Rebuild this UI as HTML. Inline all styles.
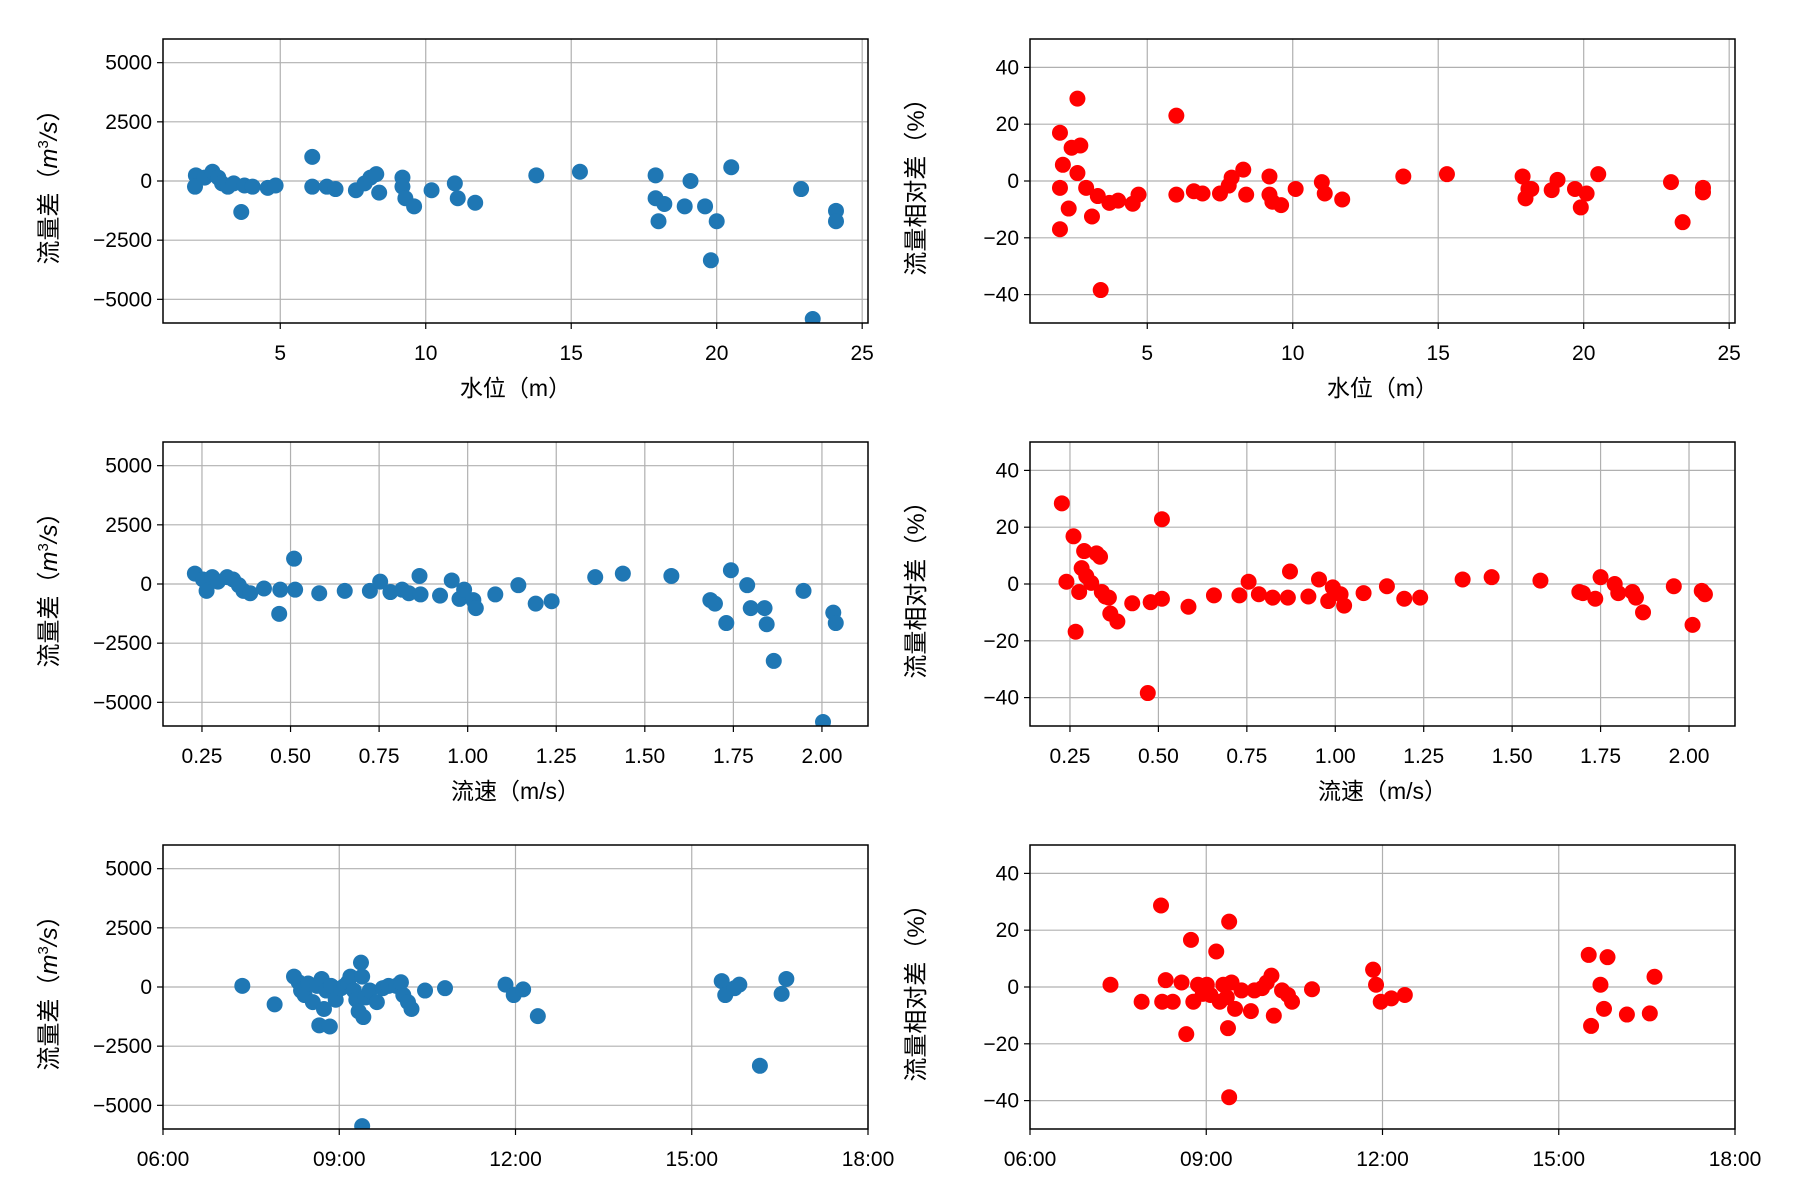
<!DOCTYPE html>
<html><head><meta charset="utf-8"><style>
html,body{margin:0;padding:0;background:#fff;}
svg{display:block;font-family:"Liberation Sans","Noto Sans CJK SC",sans-serif;}
</style></head><body>
<svg id="fig" width="1800" height="1200" viewBox="0 0 1800 1200" xmlns="http://www.w3.org/2000/svg"></svg>
<script>
// ---- data ----
const stageDiffX=[2.1,2.07,2.4,2.67,2.87,3.0,3.2,3.4,3.66,3.77,4.05,4.57,4.84,6.1,6.1,6.6,6.9,7.6,7.9,8.1,8.3,8.4,9.2,9.2,9.3,9.6,10.2,11.0,11.1,11.7,13.8,15.3,17.9,17.9,18.2,18.0,18.9,19.1,19.6,19.8,20.0,20.5,22.9,23.3,24.1,24.1];
const stageDiffY=[240,-240,145,390,145,-100,-240,-100,-1310,-190,-240,-290,-190,1020,-240,-240,-340,-390,-100,145,290,-490,145,-240,-730,-1070,-390,-100,-730,-920,240,390,240,-730,-970,-1700,-1070,0,-1070,-3350,-1700,580,-340,-5830,-1260,-1700];
const stageRelX=[2.0,2.0,2.0,2.1,2.3,2.4,2.6,2.6,2.7,2.9,3.1,3.3,3.4,3.7,4.0,4.5,4.7,6.0,6.0,6.6,6.9,7.5,7.8,7.9,8.3,8.4,9.2,9.2,9.3,9.6,10.1,11.0,11.1,11.7,13.8,15.3,17.9,18.1,18.0,18.2,18.9,19.1,19.7,19.9,20.1,20.5,23.0,23.4,24.1,24.1];
const stageRelY=[17,-17,-2.4,5.7,-9.7,11.7,29,2.8,12.5,-2.4,-12.5,-5.3,-38.4,-7.7,-6.9,-8,-4.8,23,-4.8,-3.6,-4.4,-4.4,-1.6,1.2,4,-4.8,1.6,-4.8,-7.3,-8.5,-2.8,-0.4,-4.4,-6.5,1.6,2.4,1.6,-2.8,-6.1,-2.8,-3.2,0.4,-2.8,-9.3,-4.4,2.4,-0.4,-14.5,-2.4,-4];
const velDiffX=[0.23,0.253,0.263,0.279,0.295,0.321,0.338,0.354,0.367,0.386,0.425,0.468,0.471,0.51,0.513,0.581,0.653,0.724,0.753,0.782,0.815,0.834,0.864,0.867,0.922,0.955,0.977,0.99,1.016,1.023,1.078,1.143,1.192,1.237,1.36,1.438,1.575,1.685,1.698,1.73,1.743,1.789,1.799,1.838,1.844,1.864,1.948,2.003,2.032,2.039];
const velDiffY=[440,190,-290,290,100,290,190,-50,-290,-390,-190,-1260,-240,1070,-240,-390,-290,-290,100,-340,-240,-390,340,-440,-490,150,-630,-240,-680,-1020,-440,-50,-830,-730,290,440,340,-680,-830,-1650,580,-50,-1020,-1020,-1700,-3250,-290,-5830,-1210,-1650];
const velRelX=[0.227,0.26,0.266,0.24,0.276,0.283,0.29,0.296,0.31,0.325,0.335,0.34,0.35,0.36,0.364,0.384,0.426,0.47,0.478,0.51,0.51,0.585,0.657,0.729,0.755,0.784,0.823,0.866,0.872,0.924,0.954,0.98,0.993,1.015,1.025,1.08,1.146,1.195,1.24,1.36,1.442,1.58,1.69,1.70,1.735,1.75,1.79,1.80,1.84,1.85,1.87,1.957,2.01,2.036,2.045];
const velRelY=[28.4,16.8,-16.8,0.8,-2.8,5.6,11.6,2.8,0.4,10.8,9.6,-2.8,-4.4,-4.8,-10.4,-13.2,-6.8,-38.4,-6.4,22.8,-5.2,-8,-4,-4,0.8,-3.6,-4.8,-4.8,4.4,-4.4,1.6,-6,-1.2,-3.6,-7.6,-3.2,-0.8,-5.2,-4.8,1.6,2.4,1.2,-2.8,-3.2,-5.2,2.4,0,-3.2,-2.8,-4.8,-10,-0.8,-14.4,-2.4,-3.6];
const timeDiffX=[7.35,7.9,8.23,8.31,8.35,8.41,8.47,8.55,8.62,8.70,8.66,8.74,8.78,8.84,8.86,8.94,9.03,9.09,9.15,9.19,9.25,9.29,9.33,9.37,9.39,9.39,9.41,9.45,9.52,9.64,9.74,9.84,9.97,10.05,10.09,10.17,10.23,10.46,10.8,11.83,11.97,12.13,12.38,15.51,15.57,15.73,15.81,16.16,16.53,16.61];
const timeDiffY=[50,-735,440,200,-150,-340,150,-640,50,340,-1620,-930,-150,-1670,50,-540,-50,50,200,440,-150,-540,-1030,1030,440,-5880,-1270,-440,-150,-640,-50,50,50,200,-340,-640,-930,-150,-50,100,-340,-100,-1230,250,-340,-50,100,-3330,-290,340];
const timeRelX=[7.37,7.9,8.23,8.31,8.25,8.43,8.58,8.66,8.74,8.78,8.86,8.94,9.01,9.07,9.17,9.23,9.29,9.35,9.37,9.39,9.39,9.43,9.49,9.6,9.76,9.82,9.95,10.03,10.11,10.15,10.29,10.39,10.46,10.8,11.84,11.89,11.97,12.15,12.38,15.51,15.55,15.71,15.77,15.83,16.16,16.55,16.63];
const timeRelY=[0.8,-5.2,28.7,2.4,-5.2,-5.2,1.6,-16.6,16.6,-5.2,0.8,-2.4,0.8,-2.8,12.5,-5.2,0.8,-3.6,-14.5,23,-38.8,1.6,-7.7,-1.2,-8.5,-1.2,-0.4,1.6,4,-10.1,-1.2,-2.8,-5.2,-0.8,6.1,0.8,-5.2,-4,-2.8,11.3,-13.7,0.8,-7.7,10.5,-9.7,-9.3,3.6];
const stageTicks=[5,10,15,20,25];
const velTicks=[0.25,0.5,0.75,1.0,1.25,1.5,1.75,2.0];
const timeTicks=[6,9,12,15,18];
const diffTicks=[-5000,-2500,0,2500,5000];
const relTicks=[-40,-20,0,20,40];

const NS="http://www.w3.org/2000/svg";
const svg=document.getElementById('fig');
function el(tag,attrs,parent){const e=document.createElementNS(NS,tag);for(const k in attrs)e.setAttribute(k,attrs[k]);(parent||svg).appendChild(e);return e;}
function fmtVel(v){return v.toFixed(2);}
function fmtTime(v){return (v<10?'0':'')+v+':00';}
function panel(name,L,T,W,H,xmin,xmax,ymin,ymax,xt,xfmt,yt,xs,ys,color,xlabel,ylabel){
  const g=el('g',{});
  
  
  const sx=v=>L+(v-xmin)/(xmax-xmin)*W;
  const sy=v=>T+H-(v-ymin)/(ymax-ymin)*H;
  xt.forEach(v=>{
    const x=sx(v);
    const gl=el('line',{x1:x,x2:x,y1:T,y2:T+H,stroke:'#b0b0b0','stroke-width':1.2},g);
    
    
    el('line',{x1:x,x2:x,y1:T+H,y2:T+H+6,stroke:'#000','stroke-width':1.2},g);
    const t=el('text',{x:x,y:T+H+37,'text-anchor':'middle','font-size':21,fill:'#000'},g);
    
    
    t.textContent=xfmt(v);
  });
  yt.forEach(v=>{
    const y=sy(v);
    const gl=el('line',{x1:L,x2:L+W,y1:y,y2:y,stroke:'#b0b0b0','stroke-width':1.2},g);
    
    
    el('line',{x1:L-6,x2:L,y1:y,y2:y,stroke:'#000','stroke-width':1.2},g);
    const t=el('text',{x:L-11,y:y+7,'text-anchor':'end','font-size':21,fill:'#000'},g);
    
    
    t.textContent=(v<0?'\u2212'+Math.abs(v):String(v));
  });
  const clip=el('clipPath',{id:'c'+name},g);
  el('rect',{x:L,y:T,width:W,height:H},clip);
  const pts=el('g',{'clip-path':'url(#c'+name+')'},g);
  xs.forEach((xv,i)=>{
    const c=el('circle',{cx:sx(xv),cy:sy(ys[i]),r:8,fill:color},pts);
    
    
  });
  const fr=el('rect',{x:L,y:T,width:W,height:H,fill:'none',stroke:'#000','stroke-width':1.5},g);
  
  
  if(xlabel){
    const xl=el('text',{x:L+W/2,y:T+H+73,'text-anchor':'middle','font-size':23,fill:'#000'},g);
    
    
    xl.textContent=xlabel;
  }
  const cx=L-106,cy=T+H/2;
  const yl=el('text',{x:cx,y:cy,'text-anchor':'middle','font-size':24,fill:'#000',transform:'rotate(-90 '+cx+' '+cy+')'},g);
  
  
  if(ylabel==='diff'){
    yl.innerHTML='流量差（<tspan font-style="italic">m</tspan><tspan font-size="15" dy="-9">3</tspan><tspan dy="9" font-style="italic">/s</tspan>）';
  } else {
    yl.textContent='流量相对差（%）';
  }
}
const LW=705,RH=284;
const rows=[39,442,845];
const cols=[163,1030];
panel('stage-diff-plot',cols[0],rows[0],LW,RH,0.97,25.2,-6000,6000,stageTicks,String,diffTicks,stageDiffX,stageDiffY,'#1f77b4','水位（m）','diff');
panel('stage-rel-plot',cols[1],rows[0],LW,RH,0.97,25.2,-50,50,stageTicks,String,relTicks,stageRelX,stageRelY,'#ff0000','水位（m）','rel');
panel('velocity-diff-plot',cols[0],rows[1],LW,RH,0.14,2.13,-6000,6000,velTicks,fmtVel,diffTicks,velDiffX,velDiffY,'#1f77b4','流速（m/s）','diff');
panel('velocity-rel-plot',cols[1],rows[1],LW,RH,0.137,2.13,-50,50,velTicks,fmtVel,relTicks,velRelX,velRelY,'#ff0000','流速（m/s）','rel');
panel('time-diff-plot',cols[0],rows[2],LW,RH,6,18,-6000,6000,timeTicks,fmtTime,diffTicks,timeDiffX,timeDiffY,'#1f77b4','','diff');
panel('time-rel-plot',cols[1],rows[2],LW,RH,6,18,-50,50,timeTicks,fmtTime,relTicks,timeRelX,timeRelY,'#ff0000','','rel');
</script>
</body></html>
